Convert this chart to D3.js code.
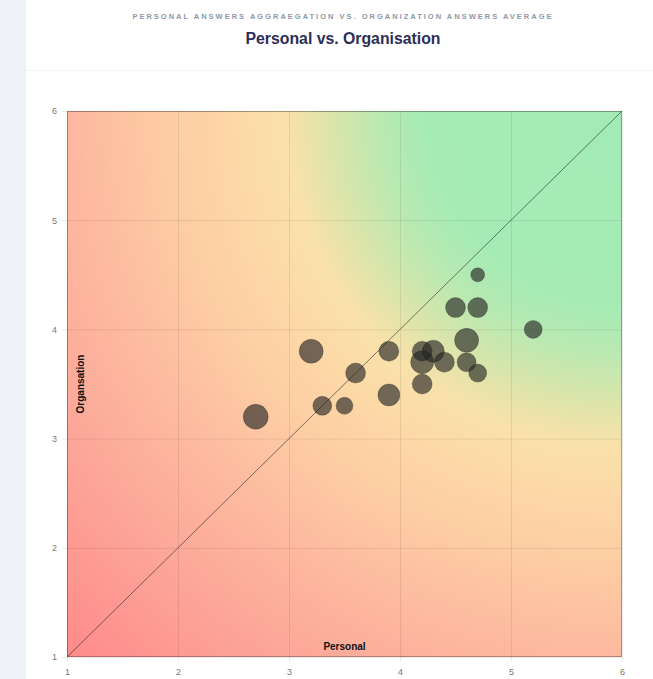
<!DOCTYPE html>
<html>
<head>
<meta charset="utf-8">
<script src="https://cdn.jsdelivr.net/npm/d3@7/dist/d3.min.js"></script>
<style>
  html, body { margin: 0; padding: 0; background: #ffffff; }
  svg { display: block; }
</style>
</head>
<body>
<svg id="chart" width="653" height="679"></svg>
<script>
// ---- data ----
const personal     = [4.7, 4.5, 4.7, 5.2, 4.6, 4.6, 4.7, 3.9, 3.2, 3.6, 3.9, 3.3, 3.5, 2.7, 4.2, 4.3, 4.2, 4.4, 4.2];
const organisation = [4.5, 4.2, 4.2, 4.0, 3.9, 3.7, 3.6, 3.8, 3.8, 3.6, 3.4, 3.3, 3.3, 3.2, 3.8, 3.8, 3.7, 3.7, 3.5];
const responses    = [14, 20, 20, 18, 24, 19, 18, 20, 24, 20, 22, 19, 17, 25, 20, 22, 23, 20, 20];
const xTicks = [1, 2, 3, 4, 5, 6];
const yTicks = [1, 2, 3, 4, 5, 6];
const subtitleText = "PERSONAL ANSWERS AGGRAEGATION VS. ORGANIZATION ANSWERS AVERAGE";
const titleText = "Personal vs. Organisation";
const xLabel = "Personal";
const yLabel = "Organsation";

const svg = d3.select("#chart");
const W = 653, H = 679;
const plot = { left: 67, right: 622, top: 111, bottom: 657 };

// sidebar + header
svg.append("rect").attr("x", 0).attr("y", 0).attr("width", 26).attr("height", H).attr("fill", "#eef2f8");
svg.append("line").attr("x1", 26).attr("x2", W).attr("y1", 70.5).attr("y2", 70.5)
  .attr("stroke", "#f1f3f6").attr("stroke-width", 1);

svg.append("text").attr("x", 343).attr("y", 18.5).attr("text-anchor", "middle")
  .attr("font-family", "Liberation Sans, Arial, sans-serif").attr("font-weight", "bold")
  .attr("font-size", 7.5).attr("letter-spacing", 2.0).attr("fill", "#8e99a6")
  .text(subtitleText);
svg.append("text").attr("x", 343).attr("y", 43.5).attr("text-anchor", "middle")
  .attr("font-family", "Liberation Sans, Arial, sans-serif").attr("font-weight", "bold")
  .attr("font-size", 15.8).attr("fill", "#2d2e58")
  .text(titleText);

const x = d3.scaleLinear().domain([1, 6]).range([plot.left, plot.right]);
const y = d3.scaleLinear().domain([1, 6]).range([plot.bottom, plot.top]);
const r = d3.scaleLinear().domain([0, 26]).range([0, 13]);

// background gradient (radial from top-right corner)
const defs = svg.append("defs");
const cx = x(6), cy = y(6);
const rad = Math.hypot(x(6) - x(1), y(1) - y(6));
const grad = defs.append("radialGradient").attr("id", "bg")
  .attr("gradientUnits", "userSpaceOnUse")
  .attr("cx", cx).attr("cy", cy).attr("r", rad).attr("fx", cx).attr("fy", cy);
[
  [0.00, "#a2ebb6"],
  [0.25, "#a6ebb5"],
  [0.31, "#b9e9b1"],
  [0.37, "#d9e5ab"],
  [0.43, "#f9e1aa"],
  [0.50, "#fdd8a7"],
  [0.58, "#fdcda4"],
  [0.70, "#fdb99f"],
  [0.82, "#fca699"],
  [1.00, "#ff8a8a"]
].forEach(([o, c]) => grad.append("stop").attr("offset", o).attr("stop-color", c));

const clip = defs.append("clipPath").attr("id", "clip");
clip.append("rect").attr("x", plot.left).attr("y", plot.top)
  .attr("width", plot.right - plot.left).attr("height", plot.bottom - plot.top);

svg.append("rect").attr("x", plot.left).attr("y", plot.top)
  .attr("width", plot.right - plot.left).attr("height", plot.bottom - plot.top)
  .attr("fill", "url(#bg)");

// grid
const g = svg.append("g");
g.selectAll("line.vx").data(xTicks).join("line")
  .attr("x1", d => x(d) + 0.5).attr("x2", d => x(d) + 0.5)
  .attr("y1", plot.top).attr("y2", plot.bottom + 5)
  .attr("stroke", "rgba(0,0,0,0.08)");
g.selectAll("line.hy").data(yTicks).join("line")
  .attr("y1", d => y(d) + 0.5).attr("y2", d => y(d) + 0.5)
  .attr("x1", plot.left - 5).attr("x2", plot.right)
  .attr("stroke", "rgba(0,0,0,0.08)");

// axes (tick labels)
const xAxis = svg.append("g").attr("transform", `translate(0,${plot.bottom})`)
  .call(d3.axisBottom(x).tickValues(xTicks).tickFormat(d3.format("d")).tickSize(0).tickPadding(12));
const yAxis = svg.append("g").attr("transform", `translate(${plot.left},0)`)
  .call(d3.axisLeft(y).tickValues(yTicks).tickFormat(d3.format("d")).tickSize(0).tickPadding(10));
[xAxis, yAxis].forEach(a => {
  a.select(".domain").remove();
  a.selectAll("text").attr("font-family", "Liberation Sans, Arial, sans-serif")
    .attr("font-size", 9).attr("fill", "#777");
});

// border
svg.append("rect").attr("x", plot.left + 0.5).attr("y", plot.top + 0.5)
  .attr("width", plot.right - plot.left - 1).attr("height", plot.bottom - plot.top - 1)
  .attr("fill", "none").attr("stroke", "rgba(0,0,0,0.28)").attr("stroke-width", 1);

// diagonal
svg.append("line").attr("x1", x(1)).attr("y1", y(1)).attr("x2", x(6)).attr("y2", y(6))
  .attr("stroke", "rgba(40,40,40,0.6)").attr("stroke-width", 1);

// bubbles
const pts = personal.map((p, i) => ({ p, o: organisation[i], n: responses[i] }));
svg.append("g").attr("clip-path", "url(#clip)")
  .selectAll("circle").data(pts).join("circle")
  .attr("cx", d => x(d.p)).attr("cy", d => y(d.o)).attr("r", d => r(d.n))
  .attr("fill", "rgba(36,36,36,0.64)")
  .attr("stroke", "rgba(0,0,0,0.2)").attr("stroke-width", 1);

// axis titles
svg.append("text").attr("x", x(3.5)).attr("y", plot.bottom - 7.5).attr("text-anchor", "middle")
  .attr("font-family", "Liberation Sans, Arial, sans-serif").attr("font-weight", "bold")
  .attr("font-size", 10).attr("fill", "#111").text(xLabel);
svg.append("text").attr("transform", `translate(${plot.left + 17},${y(3.5)}) rotate(-90)`)
  .attr("text-anchor", "middle")
  .attr("font-family", "Liberation Sans, Arial, sans-serif").attr("font-weight", "bold")
  .attr("font-size", 10).attr("fill", "#111").text(yLabel);
</script>
</body>
</html>
